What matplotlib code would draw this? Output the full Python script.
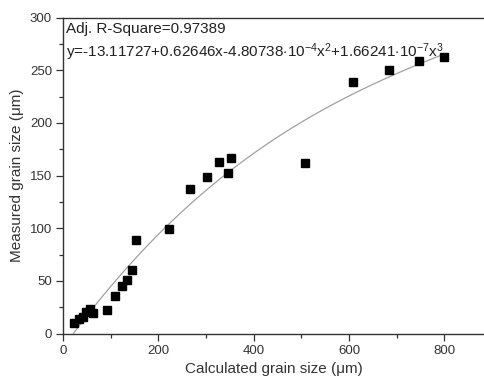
import numpy as np
import matplotlib
matplotlib.use("Agg")
import matplotlib.pyplot as plt
from matplotlib.ticker import MultipleLocator

plt.rcParams['font.family'] = ['Liberation Sans', 'DejaVu Sans']
plt.rcParams['mathtext.fontset'] = 'custom'
plt.rcParams['mathtext.rm'] = 'Liberation Sans'
plt.rcParams['mathtext.it'] = 'Liberation Sans'

calc_size = [24, 34, 41, 49, 57, 62, 92, 110, 123, 134, 144, 152, 223, 267,
             302, 328, 345, 352, 508, 608, 683, 746, 800]
meas_size = [10, 14, 16, 21, 23, 20, 22, 36, 45, 51, 60, 89, 99, 137,
             149, 163, 152, 167, 162, 239, 250, 259, 263]
coef = [-13.11727, 0.62646, -4.80738e-4, 1.66241e-7]
r2_text = "Adj. R-Square=0.97389"
eq_text = (r"y=-13.11727+0.62646x-4.80738$\cdot$10$^{-4}$x$^{2}$"
           r"+1.66241$\cdot$10$^{-7}$x$^{3}$")

fig = plt.figure(figsize=(4.85, 3.85), dpi=100)
ax = fig.add_axes([0.130, 0.1333, 0.870, 0.8212])

xf = np.linspace(min(calc_size) - 2, max(calc_size), 300)
yf = coef[0] + coef[1] * xf + coef[2] * xf**2 + coef[3] * xf**3
ax.plot(xf, yf, color='#a0a0a0', lw=0.9, zorder=2)
ax.plot(calc_size, meas_size, 's', color='black', markersize=6.2, zorder=3)

ax.set_xlim(0, 885)
ax.set_ylim(0, 300)
ax.xaxis.set_major_locator(MultipleLocator(200))
ax.xaxis.set_minor_locator(MultipleLocator(100))
ax.yaxis.set_major_locator(MultipleLocator(50))
ax.yaxis.set_minor_locator(MultipleLocator(25))
ax.tick_params(which='major', direction='out', length=5, width=0.9,
               labelsize=9.5, colors='#333333', pad=3)
ax.tick_params(which='minor', direction='out', length=3, width=0.9, colors='#333333')
ax.tick_params(top=False, right=False, which='both')
for s in ax.spines.values():
    s.set_color('#333333')
    s.set_linewidth(1.0)

ax.set_xlabel("Calculated grain size (\u03bcm)", fontsize=11, color='#333333', labelpad=4)
ax.set_ylabel("Measured grain size (\u03bcm)", fontsize=11, color='#333333', labelpad=4)

ax.text(0.006, 0.985, r2_text, transform=ax.transAxes, fontsize=11,
        va='top', ha='left', color='#222222')
ax.text(0.006, 0.925, eq_text, transform=ax.transAxes, fontsize=11,
        va='top', ha='left', color='#222222')

fig.savefig("out.png", dpi=100)
